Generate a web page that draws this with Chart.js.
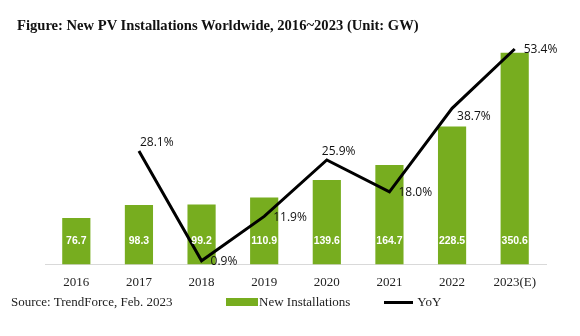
<html lang="en">
<head>
  <meta charset="UTF-8">
  <title>New PV Installations Worldwide</title>
  <script src="https://cdn.jsdelivr.net/npm/chart.js"></script>
  <style>
    body, html {
      margin: 0;
      padding: 0;
      background-color: #ffffff;
      font-family: "Liberation Serif", serif;
    }
    .wrap {
      position: relative;
      width: 580px;
      height: 336px;
      overflow: hidden;
    }
    .title {
      position: absolute;
      left: 17px;
      top: 17px;
      font-size: 14.6px;
      font-weight: bold;
      color: #111;
      white-space: nowrap;
    }
    .source {
      position: absolute;
      left: 11px;
      top: 294px;
      font-size: 13px;
      color: #222;
    }
    .legend {
      position: absolute;
      left: 226px;
      top: 294px;
      font-size: 13px;
      color: #222;
      display: flex;
      align-items: center;
      white-space: nowrap;
    }
    .box { display: inline-block; width: 32px; height: 8px; background: #77ad1f; margin-right: 1px; }
    .ln { display: inline-block; width: 29px; height: 3px; background: #000; margin: 0 4px 0 34px; }
    #myChart { position: absolute; left: 0; top: 0; }
  </style>
</head>
<body>
  <div class="wrap">
    <canvas id="myChart" width="580" height="336"></canvas>
    <div class="title">Figure: New PV Installations Worldwide, 2016~2023 (Unit: GW)</div>
    <div class="source">Source: TrendForce, Feb. 2023</div>
    <div class="legend"><span class="box"></span>New Installations<span class="ln"></span>YoY</div>
  </div>

  <script>
    const years = ['2016', '2017', '2018', '2019', '2020', '2021', '2022', '2023(E)'];
    const installs = [76.7, 98.3, 99.2, 110.9, 139.6, 164.7, 228.5, 350.6];
    const yoy = [null, 28.1, 0.9, 11.9, 25.9, 18.0, 38.7, 53.4];
    // where each YoY label sits relative to its point
    const yoyLabelPos = ['', 'above', 'right', 'right', 'above', 'right', 'rightBelow', 'right'];

    const valueLabels = {
      id: 'valueLabels',
      afterDatasetsDraw(chart) {
        const c = chart.ctx;
        c.save();
        // bar values, white, near the bottom of each bar
        const bars = chart.getDatasetMeta(0).data;
        c.font = 'bold 10.5px "Liberation Sans"';
        c.fillStyle = '#ffffff';
        c.textAlign = 'center';
        c.textBaseline = 'middle';
        bars.forEach((b, i) => {
          c.fillText(installs[i].toFixed(1), b.x, chart.chartArea.bottom - 23);
        });
        // YoY labels
        const pts = chart.getDatasetMeta(1).data;
        c.font = '12px "Open Sans"';
        c.fillStyle = '#111';
        pts.forEach((p, i) => {
          if (yoy[i] === null) return;
          const txt = yoy[i].toFixed(1) + '%';
          const pos = yoyLabelPos[i];
          if (pos === 'above') {
            c.textAlign = 'left';
            c.textBaseline = 'bottom';
            c.fillText(txt, p.x - (i === 4 ? 5 : -1), p.y - 2);
          } else if (pos === 'rightBelow') {
            c.textAlign = 'left';
            c.textBaseline = 'middle';
            c.fillText(txt, p.x + 5, p.y + 8);
          } else {
            c.textAlign = 'left';
            c.textBaseline = 'middle';
            c.fillText(txt, p.x + 9, p.y + 1);
          }
        });
        c.restore();
      }
    };

    const ctx = document.getElementById('myChart').getContext('2d');
    new Chart(ctx, {
      data: {
        labels: years,
        datasets: [
          {
            type: 'bar',
            label: 'New Installations',
            data: installs,
            backgroundColor: '#77ad1f',
            categoryPercentage: 1,
            barPercentage: 0.45,
            yAxisID: 'y',
            order: 2
          },
          {
            type: 'line',
            label: 'YoY',
            data: yoy,
            borderColor: '#000000',
            borderWidth: 3,
            pointRadius: 0,
            tension: 0,
            yAxisID: 'y1',
            order: 1
          }
        ]
      },
      options: {
        responsive: false,
        animation: false,
        layout: { padding: { left: 45, right: 34, top: 47, bottom: 44 } },
        plugins: {
          legend: { display: false },
          tooltip: { enabled: false }
        },
        scales: {
          x: {
            grid: { display: false },
            border: { display: true, color: '#d9d9d9', width: 1 },
            ticks: { color: '#222', font: { family: 'Liberation Serif', size: 13 }, padding: 2 }
          },
          y: { display: false, min: 0, max: 360 },
          y1: { display: false, min: 0, max: 53.9, position: 'right' }
        }
      },
      plugins: [valueLabels]
    });
  </script>
</body>
</html>
